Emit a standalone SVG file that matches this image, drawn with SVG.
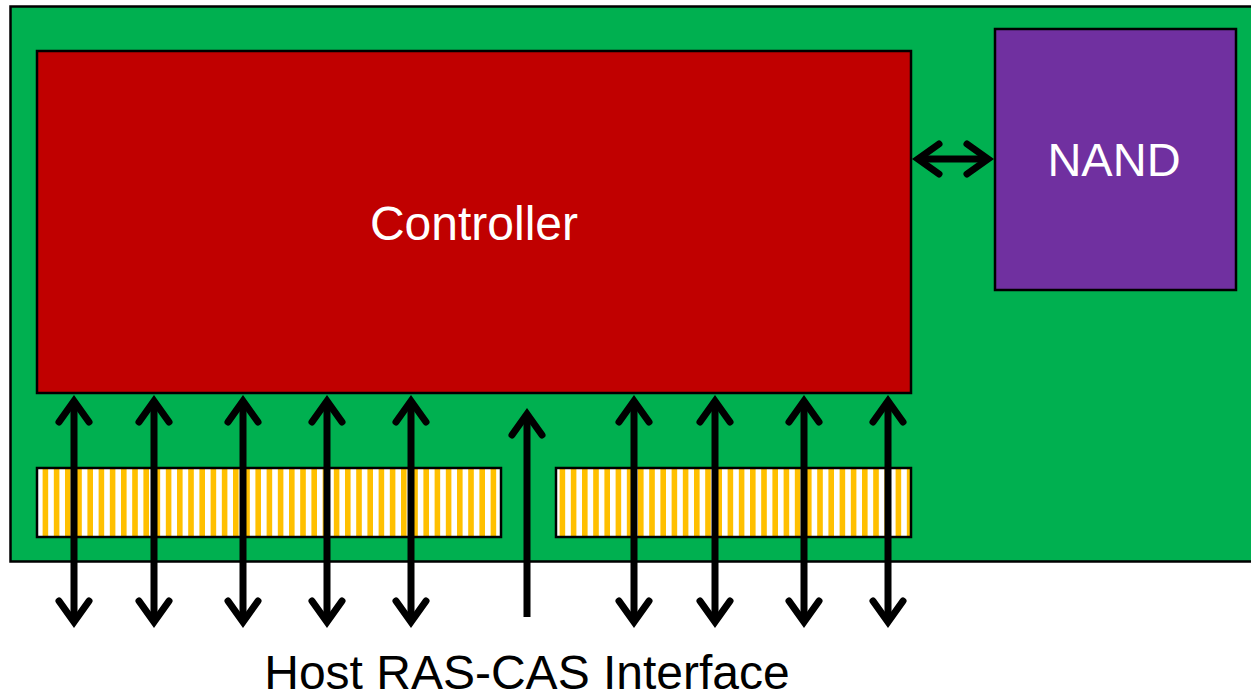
<svg xmlns="http://www.w3.org/2000/svg" width="1251" height="697" viewBox="0 0 1251 697">
  <style>
    .box { stroke: #000; stroke-width: 2.5; }
    .lbl { font-family: "Liberation Sans", Arial, sans-serif; text-anchor: middle; }
    .arrow { stroke: #000; stroke-width: 7; fill: none; }
  </style>
  <defs>
    <pattern id="stripesL" x="37" y="0" width="11.2" height="20" patternUnits="userSpaceOnUse">
      <rect x="0" y="0" width="11.2" height="20" fill="#FFFFFF"/>
      <rect x="5.6" y="0" width="5.6" height="20" fill="#FFC000"/>
    </pattern>
    <pattern id="stripesR" x="554" y="0" width="11.2" height="20" patternUnits="userSpaceOnUse">
      <rect x="0" y="0" width="11.2" height="20" fill="#FFFFFF"/>
      <rect x="5.6" y="0" width="5.6" height="20" fill="#FFC000"/>
    </pattern>
    <marker id="head" markerUnits="userSpaceOnUse" orient="auto-start-reverse" refX="0" refY="0" markerWidth="60" markerHeight="60" overflow="visible">
      <path d="M -21 -15 L 0 0 L -21 15" fill="none" stroke="#000" stroke-width="7" stroke-linecap="round" stroke-linejoin="miter"/>
    </marker>
  </defs>
  <rect width="1251" height="697" fill="#FFFFFF"/>

  <g id="board">
    <rect class="box" x="10.5" y="6.5" width="1252" height="555" fill="#00B050"/>
  </g>

  <g id="controller">
    <rect class="box" x="37" y="51" width="874" height="342" fill="#C00000"/>
    <text class="lbl" x="474" y="240" font-size="48" fill="#FFFFFF">Controller</text>
  </g>

  <g id="nand">
    <rect class="box" x="995" y="29" width="241" height="261" fill="#7030A0"/>
    <text class="lbl" x="1114" y="176" font-size="47" fill="#FFFFFF">NAND</text>
  </g>

  <g id="pins-left">
    <rect class="box" x="37" y="468" width="464" height="69" fill="url(#stripesL)"/>
  </g>

  <g id="pins-right">
    <rect class="box" x="556" y="468" width="355" height="69" fill="url(#stripesR)"/>
  </g>

  <g id="connectors">
    <line class="arrow" x1="74" y1="401" x2="74" y2="622" marker-start="url(#head)" marker-end="url(#head)"/>
    <line class="arrow" x1="154" y1="401" x2="154" y2="622" marker-start="url(#head)" marker-end="url(#head)"/>
    <line class="arrow" x1="243" y1="401" x2="243" y2="622" marker-start="url(#head)" marker-end="url(#head)"/>
    <line class="arrow" x1="327" y1="401" x2="327" y2="622" marker-start="url(#head)" marker-end="url(#head)"/>
    <line class="arrow" x1="411" y1="401" x2="411" y2="622" marker-start="url(#head)" marker-end="url(#head)"/>
    <line class="arrow" x1="527" y1="617" x2="527" y2="414" marker-end="url(#head)"/>
    <line class="arrow" x1="634" y1="401" x2="634" y2="622" marker-start="url(#head)" marker-end="url(#head)"/>
    <line class="arrow" x1="715" y1="401" x2="715" y2="622" marker-start="url(#head)" marker-end="url(#head)"/>
    <line class="arrow" x1="804" y1="401" x2="804" y2="622" marker-start="url(#head)" marker-end="url(#head)"/>
    <line class="arrow" x1="888" y1="401" x2="888" y2="622" marker-start="url(#head)" marker-end="url(#head)"/>
    <line class="arrow" x1="918" y1="159" x2="988" y2="159" marker-start="url(#head)" marker-end="url(#head)"/>
  </g>

  <g id="caption">
    <text class="lbl" x="527" y="689" font-size="48" fill="#000000">Host RAS-CAS Interface</text>
  </g>
</svg>
